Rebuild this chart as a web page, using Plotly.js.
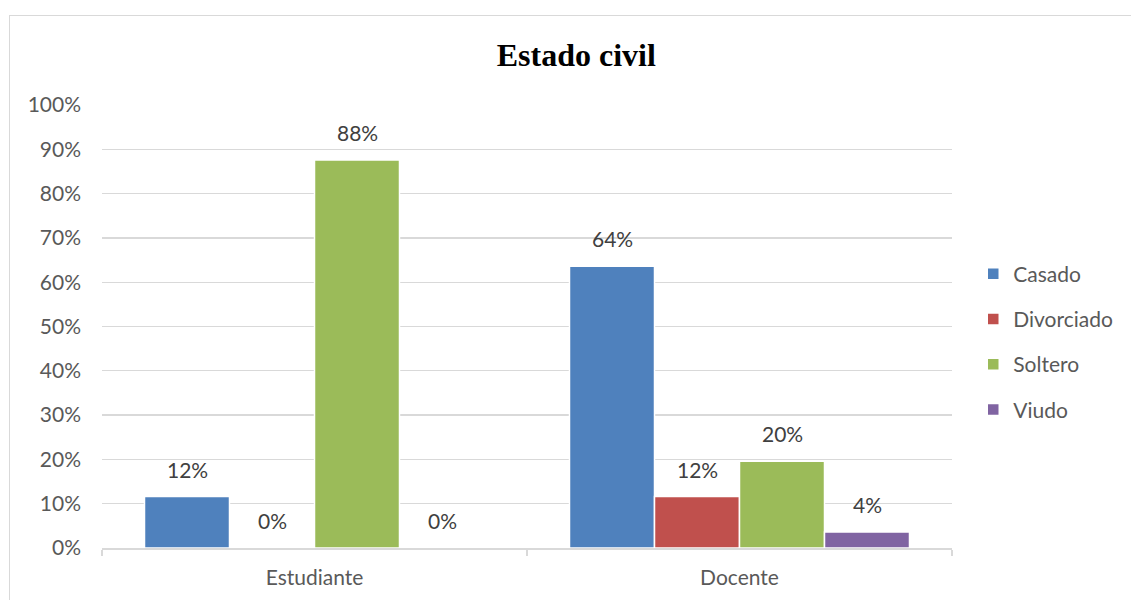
<!DOCTYPE html>
<html>
<head>
<meta charset="utf-8">
<script src="https://cdn.plot.ly/plotly-3.0.1.min.js"></script>
<style>
html,body{margin:0;padding:0;background:#fff;overflow:hidden;}
#frame{position:absolute;left:9px;top:15px;width:1200px;height:700px;border:1px solid #d9d9d9;box-sizing:border-box;}
#chart{position:absolute;left:0;top:0;width:1131px;height:600px;}
</style>
</head>
<body>
<div id="frame"></div>
<div id="chart"></div>
<script>
var categories = ["Estudiante", "Docente"];
var seriesNames = ["Casado", "Divorciado", "Soltero", "Viudo"];
var casado = [0.116, 0.636];
var divorciado = [0, 0.116];
var soltero = [0.876, 0.196];
var viudo = [0, 0.036];
var colors = ["#4F81BD", "#C0504D", "#9BBB59", "#8064A2"];
var yTickVals = [0,0.1,0.2,0.3,0.4,0.5,0.6,0.7,0.8,0.9,1.0];

var seriesValues = [casado, divorciado, soltero, viudo];
var FONT = "Lato, 'Open Sans', sans-serif";

var traces = seriesNames.map(function(name, i){
  return {
    type: 'bar', name: name, x: categories, y: seriesValues[i],
    marker: {color: colors[i], line: {color: '#ffffff', width: 1.5}},
    legendgroup: name, hoverinfo: 'none'
  };
});

var nS = seriesNames.length, bargap = 0.2, bw = (1 - bargap) / nS;
var annotations = [];
seriesValues.forEach(function(vals, i){
  vals.forEach(function(v, j){
    annotations.push({
      x: j - (1 - bargap)/2 + bw*(i + 0.5), y: v, xref: 'x', yref: 'y',
      text: Math.round(v*100) + '%', showarrow: false,
      yanchor: 'bottom', yshift: 13,
      font: {family: FONT, size: 21, color: '#404040'}
    });
  });
});

var layout = {
  width: 1131, height: 600,
  paper_bgcolor: 'rgba(0,0,0,0)', plot_bgcolor: 'rgba(0,0,0,0)',
  margin: {l: 102, r: 179, t: 105, b: 52},
  title: {text: '<b>Estado civil</b>', font: {family: "'Liberation Serif', 'Times New Roman', serif", size: 32, color: '#000000'},
          x: 0.558, xref: 'paper', xanchor: 'center', y: 0.908, yanchor: 'middle'},
  barmode: 'group', bargap: bargap, bargroupgap: 0,
  xaxis: {
    type: 'category', showgrid: false, showline: true, linecolor: '#d9d9d9', linewidth: 1.5,
    ticks: 'outside', tickson: 'boundaries', ticklen: 6, tickcolor: '#d9d9d9', tickwidth: 1.5,
    ticklabelstandoff: 10,
    tickfont: {family: FONT, size: 21, color: '#595959'}, fixedrange: true
  },
  yaxis: {
    range: [0, 1], tickvals: yTickVals, tickformat: '.0%', showgrid: true, gridcolor: '#d9d9d9', gridwidth: 1.3,
    zeroline: false, showline: false, ticks: '', ticklabelstandoff: 20,
    tickfont: {family: FONT, size: 21, color: '#595959'}, fixedrange: true
  },
  legend: {
    x: 1.025, xanchor: 'left', y: 0.465, yanchor: 'middle', tracegroupgap: 15,
    font: {family: FONT, size: 21, color: '#595959'}, bgcolor: 'rgba(0,0,0,0)'
  },
  annotations: annotations,
  showlegend: true
};

Plotly.newPlot('chart', traces, layout, {displayModeBar: false, staticPlot: true});
</script>
</body>
</html>
